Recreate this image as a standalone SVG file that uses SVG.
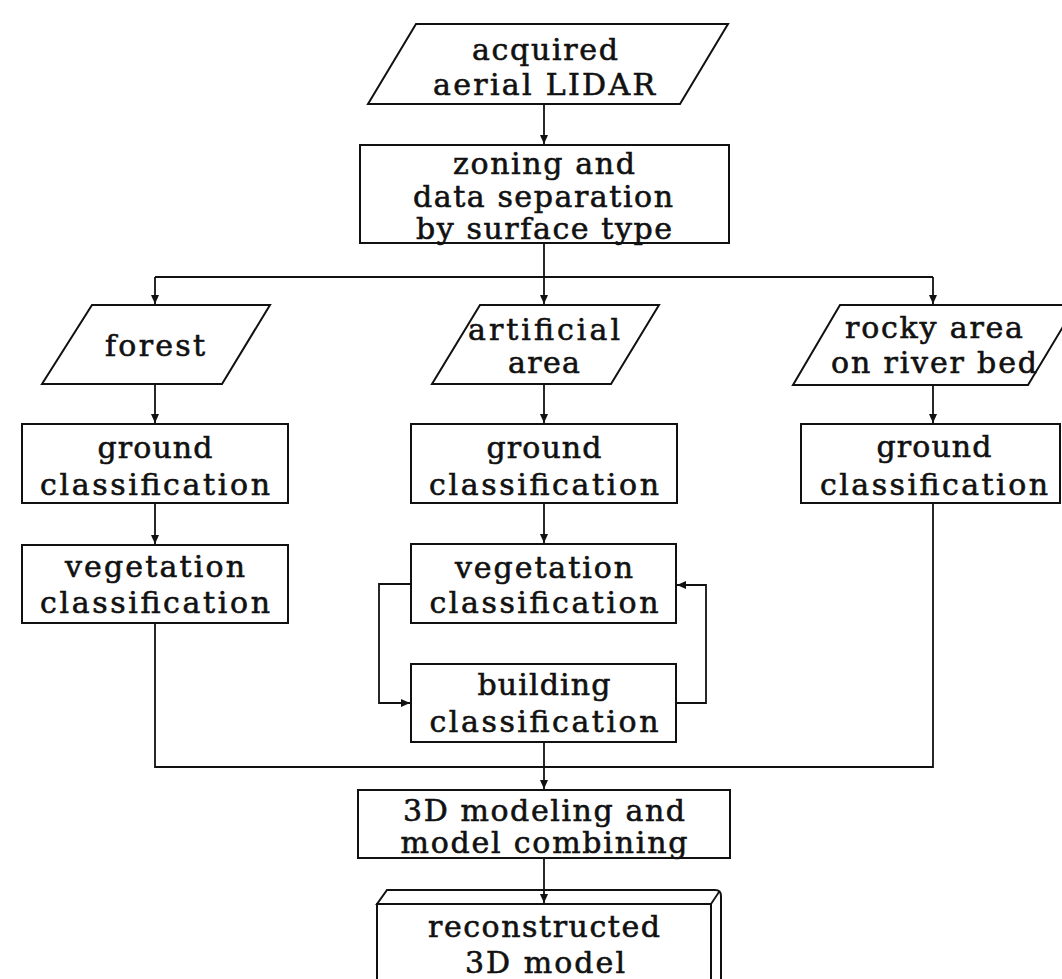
<svg xmlns="http://www.w3.org/2000/svg" width="1062" height="979" viewBox="0 0 1062 979">
<style>
.s{fill:#fff;stroke:#111;stroke-width:2}
.c{fill:none;stroke:#111;stroke-width:1.8}
text{font-family:"DejaVu Serif","Liberation Serif",serif;font-size:30px;fill:#111;stroke:#111;stroke-width:0.6;text-anchor:middle}
</style>
<defs>
<marker id="ah" markerUnits="userSpaceOnUse" markerWidth="10" markerHeight="10" refX="9" refY="4" orient="auto">
<path d="M0,0 L9,4 L0,8 z" fill="#111"/>
</marker>
</defs>
<rect width="1062" height="979" fill="#fff"/>
<g id="acquired">
<polygon class="s" points="416,24 728,24 680,104 368,104"/>
<text x="545" y="60" textLength="146" lengthAdjust="spacing">acquired</text>
<text x="544" y="95" textLength="222" lengthAdjust="spacing">aerial LIDAR</text>
</g>
<g id="zoning">
<rect class="s" x="360" y="145" width="369" height="98"/>
<text x="544" y="174" textLength="182" lengthAdjust="spacing">zoning and</text>
<text x="543" y="207" textLength="260" lengthAdjust="spacing">data separation</text>
<text x="544" y="239" textLength="256" lengthAdjust="spacing">by surface type</text>
</g>
<g id="forest">
<polygon class="s" points="92,305 270,305 222,384 42,384"/>
<text x="155" y="356" textLength="100" lengthAdjust="spacing">forest</text>
</g>
<g id="artificial">
<polygon class="s" points="480,305 659,305 611,384 432,384"/>
<text x="544" y="340" textLength="152" lengthAdjust="spacing">artificial</text>
<text x="544" y="373" textLength="72" lengthAdjust="spacing">area</text>
</g>
<g id="rocky">
<polygon class="s" points="840,305 1076,305 1028,385 793,385"/>
<text x="934" y="338" textLength="178" lengthAdjust="spacing">rocky area</text>
<text x="934" y="373" textLength="206" lengthAdjust="spacing">on river bed</text>
</g>
<g id="ground-forest">
<rect class="s" x="22" y="424" width="266" height="79"/>
<text x="155" y="458" textLength="115" lengthAdjust="spacing">ground</text>
<text x="155" y="495" textLength="230" lengthAdjust="spacing">classification</text>
</g>
<g id="ground-artificial">
<rect class="s" x="411" y="424" width="266" height="79"/>
<text x="544" y="458" textLength="115" lengthAdjust="spacing">ground</text>
<text x="544" y="495" textLength="230" lengthAdjust="spacing">classification</text>
</g>
<g id="ground-rocky">
<rect class="s" x="801" y="424" width="259" height="79"/>
<text x="934" y="457" textLength="115" lengthAdjust="spacing">ground</text>
<text x="934" y="495" textLength="228" lengthAdjust="spacing">classification</text>
</g>
<g id="vegetation-forest">
<rect class="s" x="22" y="545" width="266" height="78"/>
<text x="155" y="577" textLength="180" lengthAdjust="spacing">vegetation</text>
<text x="155" y="613" textLength="230" lengthAdjust="spacing">classification</text>
</g>
<g id="vegetation-artificial">
<rect class="s" x="411" y="544" width="265" height="79"/>
<text x="544" y="578" textLength="178" lengthAdjust="spacing">vegetation</text>
<text x="544" y="613" textLength="229" lengthAdjust="spacing">classification</text>
</g>
<g id="building">
<rect class="s" x="411" y="664" width="265" height="78"/>
<text x="544" y="695" textLength="133" lengthAdjust="spacing">building</text>
<text x="544" y="732" textLength="229" lengthAdjust="spacing">classification</text>
</g>
<g id="modeling">
<rect class="s" x="358" y="790" width="372" height="68"/>
<text x="544" y="821" textLength="282" lengthAdjust="spacing">3D modeling and</text>
<text x="544" y="853" textLength="287" lengthAdjust="spacing">model combining</text>
</g>
<g id="reconstructed">
<path class="s" d="M377,904 L387,890 H715 Q721,890 721,896 V990 H711 V904 Z"/>
<path class="c" d="M711,904 L719,892"/>
<rect class="s" x="377" y="904" width="334" height="86"/>
<text x="544" y="937" textLength="232" lengthAdjust="spacing">reconstructed</text>
<text x="545" y="973" textLength="160" lengthAdjust="spacing">3D model</text>
</g>
<g id="connectors">
<path class="c" d="M544,104 V144" marker-end="url(#ah)"/>
<path class="c" d="M544,243 V277 M155,277 H933"/>
<path class="c" d="M155,277 V304" marker-end="url(#ah)"/>
<path class="c" d="M544,277 V304" marker-end="url(#ah)"/>
<path class="c" d="M933,277 V304" marker-end="url(#ah)"/>
<path class="c" d="M155,384 V423" marker-end="url(#ah)"/>
<path class="c" d="M155,503 V544" marker-end="url(#ah)"/>
<path class="c" d="M544,384 V423" marker-end="url(#ah)"/>
<path class="c" d="M544,503 V543" marker-end="url(#ah)"/>
<path class="c" d="M933,385 V423" marker-end="url(#ah)"/>
<path class="c" d="M411,584 H379 V703 H410" marker-end="url(#ah)"/>
<path class="c" d="M676,703 H706 V585 H677" marker-end="url(#ah)"/>
<path class="c" d="M155,623 V767 H933 V503"/>
<path class="c" d="M544,742 V789" marker-end="url(#ah)"/>
<path class="c" d="M544,858 V903" marker-end="url(#ah)"/>
</g>
</svg>
